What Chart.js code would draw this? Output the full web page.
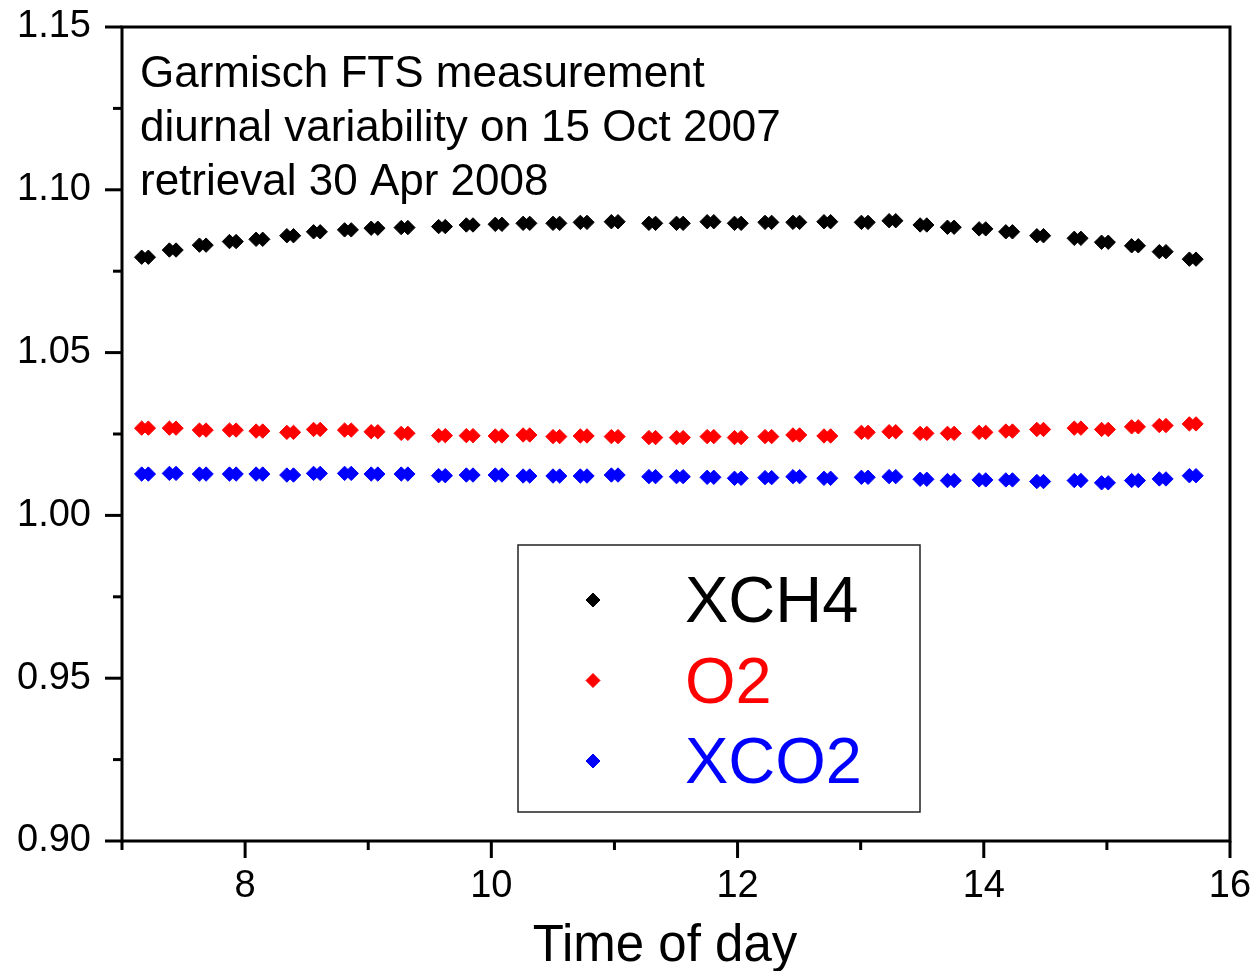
<!DOCTYPE html>
<html>
<head>
<meta charset="utf-8">
<script src="https://cdn.jsdelivr.net/npm/chart.js@4.4.1/dist/chart.umd.min.js"></script>
<style>
    html, body {
        margin: 0;
        padding: 0;
        background: #ffffff;
    }
    #wrap {
        width: 1260px;
        height: 971px;
    }
</style>
</head>
<body>
<div id="wrap">
    <canvas id="diurnalChart" width="1260" height="971"></canvas>
</div>
<script>
// each measurement is a pair of scans, start and end time (hours)
const scanStart = [7.160, 7.385, 7.629, 7.873, 8.089, 8.339, 8.556, 8.808, 9.024, 9.268, 9.572, 9.797,
    10.032, 10.258, 10.501, 10.723, 10.975, 11.280, 11.504, 11.753, 11.975, 12.223, 12.450, 12.702,
    13.006, 13.231, 13.483, 13.705, 13.962, 14.179, 14.431, 14.735, 14.957, 15.201, 15.426, 15.670];
const scanEnd = [7.214, 7.439, 7.683, 7.927, 8.143, 8.393, 8.610, 8.862, 9.078, 9.322, 9.626, 9.851,
    10.086, 10.312, 10.555, 10.777, 11.029, 11.334, 11.558, 11.807, 12.029, 12.277, 12.504, 12.756,
    13.060, 13.285, 13.537, 13.759, 14.016, 14.233, 14.485, 14.789, 15.011, 15.255, 15.480, 15.724];

const xch4 = [1.0793, 1.0815, 1.0830, 1.0841, 1.0848, 1.0859, 1.0871, 1.0877, 1.0882, 1.0884, 1.0887, 1.0892,
    1.0894, 1.0897, 1.0897, 1.0900, 1.0902, 1.0897, 1.0897, 1.0902, 1.0897, 1.0900, 1.0900, 1.0902,
    1.0900, 1.0905, 1.0892, 1.0885, 1.0880, 1.0871, 1.0859, 1.0851, 1.0839, 1.0828, 1.0810, 1.0787];
const o2 = [1.0268, 1.0268, 1.0262, 1.0262, 1.0259, 1.0255, 1.0264, 1.0262, 1.0257, 1.0252, 1.0245, 1.0245,
    1.0244, 1.0247, 1.0242, 1.0244, 1.0242, 1.0239, 1.0239, 1.0242, 1.0239, 1.0242, 1.0247, 1.0244,
    1.0255, 1.0257, 1.0252, 1.0252, 1.0255, 1.0259, 1.0264, 1.0268, 1.0264, 1.0272, 1.0276, 1.0281];
const xco2 = [1.0127, 1.0129, 1.0127, 1.0127, 1.0127, 1.0124, 1.0129, 1.0129, 1.0127, 1.0127, 1.0122, 1.0124,
    1.0124, 1.0121, 1.0121, 1.0121, 1.0124, 1.0119, 1.0119, 1.0117, 1.0114, 1.0116, 1.0119, 1.0114,
    1.0117, 1.0119, 1.0111, 1.0107, 1.0109, 1.0109, 1.0104, 1.0107, 1.0100, 1.0107, 1.0112, 1.0122];

const seriesNames = ["XCH4", "O2", "XCO2"];
const seriesColors = ["#000000", "#ff0000", "#0000ff"];

const xTicks = [7, 8, 9, 10, 11, 12, 13, 14, 15, 16];
const xLabelled = [8, 10, 12, 14, 16];
const yTicks = [0.90, 0.95, 1.00, 1.05, 1.10, 1.15];

const xTitle = "Time of day";
const noteLines = [
    "Garmisch FTS measurement",
    "diurnal variability on 15 Oct 2007",
    "retrieval 30 Apr 2008"
];

const FONT = "'Liberation Sans', Arial, Helvetica, sans-serif";

function pairPoints(values) {
    const pts = [];
    values.forEach((v, i) => {
        pts.push({ x: scanStart[i], y: v });
        pts.push({ x: scanEnd[i], y: v });
    });
    return pts;
}

const allValues = [xch4, o2, xco2];

const datasets = seriesNames.map((name, i) => ({
    label: name,
    data: pairPoints(allValues[i]),
    showLine: false,
    pointStyle: 'rectRot',
    pointRadius: 7.2,
    pointHoverRadius: 7.2,
    pointBackgroundColor: seriesColors[i],
    pointBorderColor: seriesColors[i],
    pointBorderWidth: 1
}));

// frame, major and minor ticks
const framePlugin = {
    id: 'frame',
    afterDraw(chart) {
        const ctx = chart.ctx;
        const area = chart.chartArea;
        const xs = chart.scales.x;
        const ys = chart.scales.y;

        ctx.save();
        ctx.strokeStyle = "#000000";
        ctx.lineWidth = 3;
        ctx.lineCap = 'butt';

        ctx.beginPath();
        ctx.moveTo(area.left, area.top);
        ctx.lineTo(area.right, area.top);
        ctx.lineTo(area.right, area.bottom);
        ctx.lineTo(area.left, area.bottom);
        ctx.closePath();
        ctx.stroke();

        xTicks.forEach(t => {
            const px = xs.getPixelForValue(t);
            const len = xLabelled.includes(t) ? 17 : 9;
            ctx.beginPath();
            ctx.moveTo(px, area.bottom);
            ctx.lineTo(px, area.bottom + len);
            ctx.stroke();
        });

        yTicks.forEach((t, i) => {
            const py = ys.getPixelForValue(t);
            ctx.beginPath();
            ctx.moveTo(area.left - 17, py);
            ctx.lineTo(area.left, py);
            ctx.stroke();
            if (i < yTicks.length - 1) {
                const pm = ys.getPixelForValue((t + yTicks[i + 1]) / 2);
                ctx.beginPath();
                ctx.moveTo(area.left - 9, pm);
                ctx.lineTo(area.left, pm);
                ctx.stroke();
            }
        });

        ctx.restore();
    }
};

// annotation text, axis title and legend box
const notesPlugin = {
    id: 'notes',
    afterDraw(chart) {
        const ctx = chart.ctx;
        const area = chart.chartArea;

        ctx.save();
        ctx.fillStyle = "#000000";
        ctx.font = "44px " + FONT;
        ctx.textAlign = 'left';
        ctx.textBaseline = 'alphabetic';
        noteLines.forEach((line, i) => {
            ctx.fillText(line, area.left + 18, area.top + 60 + i * 54);
        });

        ctx.font = "51px " + FONT;
        ctx.textAlign = 'center';
        ctx.fillText(xTitle, (area.left + area.right) / 2 - 11, area.bottom + 120);

        const boxLeft = area.left + 396;
        const boxTop = area.top + 518;
        const boxW = 402;
        const boxH = 267;
        ctx.strokeStyle = "#222222";
        ctx.lineWidth = 1.5;
        ctx.strokeRect(boxLeft, boxTop, boxW, boxH);

        ctx.font = "65px " + FONT;
        ctx.textAlign = 'left';
        chart.data.datasets.forEach((ds, i) => {
            const cy = boxTop + 55 + i * 80.5;
            ctx.fillStyle = ds.pointBackgroundColor;
            ctx.strokeStyle = ds.pointBorderColor;
            ctx.lineWidth = 1;
            Chart.helpers.drawPoint(ctx, { pointStyle: 'rectRot', radius: 7, borderWidth: 1 }, boxLeft + 75, cy);
            ctx.fillStyle = ds.pointBackgroundColor;
            ctx.fillText(ds.label, boxLeft + 167, cy + 22);
        });

        ctx.restore();
    }
};

const chart = new Chart(
    document.getElementById("diurnalChart"),
    {
        type: 'scatter',

        data: {
            datasets: datasets
        },

        options: {
            responsive: false,
            animation: false,
            events: [],
            layout: {
                padding: { top: 27, right: 30, left: 0, bottom: 0 }
            },
            plugins: {
                legend: { display: false },
                tooltip: { enabled: false }
            },
            scales: {
                x: {
                    type: 'linear',
                    min: 7,
                    max: 16,
                    afterBuildTicks(scale) {
                        scale.ticks = xTicks.map(v => ({ value: v }));
                    },
                    afterFit(scale) {
                        scale.height = 130;
                        scale.paddingLeft = 0;
                        scale.paddingRight = 0;
                    },
                    grid: { display: false, drawTicks: false },
                    border: { display: false },
                    ticks: {
                        autoSkip: false,
                        maxRotation: 0,
                        padding: 23,
                        color: "#000000",
                        font: { family: FONT, size: 38 },
                        callback: v => xLabelled.includes(v) ? String(v) : ""
                    },
                    title: { display: false }
                },
                y: {
                    type: 'linear',
                    min: 0.90,
                    max: 1.15,
                    afterBuildTicks(scale) {
                        scale.ticks = yTicks.map(v => ({ value: v }));
                    },
                    afterFit(scale) {
                        scale.width = 122;
                        scale.paddingTop = 0;
                        scale.paddingBottom = 0;
                    },
                    grid: { display: false, drawTicks: false },
                    border: { display: false },
                    ticks: {
                        padding: 31,
                        color: "#000000",
                        font: { family: FONT, size: 38 },
                        callback: v => Number(v).toFixed(2)
                    }
                }
            }
        },

        plugins: [framePlugin, notesPlugin]
    }
);
</script>
</body>
</html>
